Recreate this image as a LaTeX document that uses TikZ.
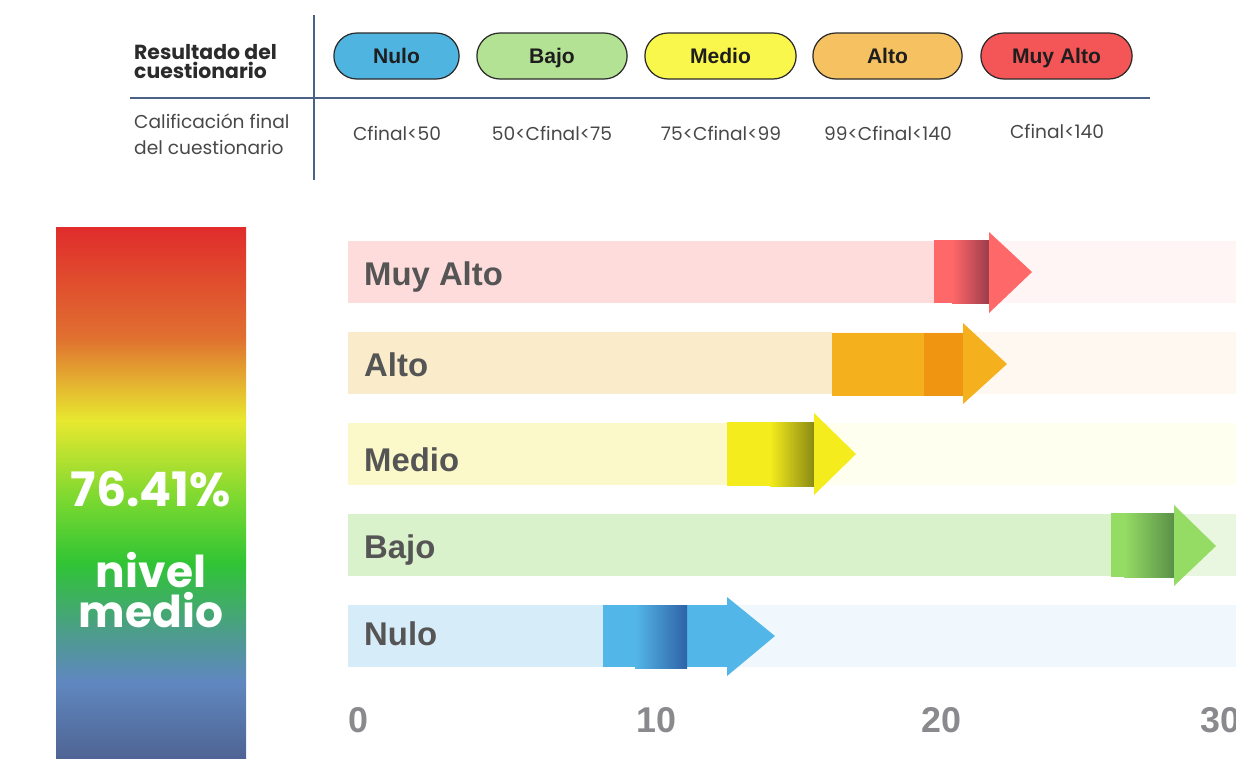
\documentclass[tikz,border=0pt]{standalone}
\usepackage{fontspec}
\setmainfont{Poppins}
\newfontfamily\arialfont{Liberation Sans}
\usetikzlibrary{shapes.misc}

% table colours
\definecolor{tableline}{HTML}{4A6286}
\definecolor{pillline}{HTML}{2A2A2A}
\definecolor{pilltext}{HTML}{1E1E1E}
\definecolor{hdrtext}{HTML}{2B2B2B}
\definecolor{rangetext}{HTML}{484848}
\definecolor{pnulo}{HTML}{4FB5E0}
\definecolor{pbajo}{HTML}{B3E294}
\definecolor{pmedio}{HTML}{F9F74C}
\definecolor{palto}{HTML}{F6C161}
\definecolor{pmuyalto}{HTML}{F45556}
% bar colours
\definecolor{labelgray}{HTML}{555555}
\definecolor{tickgray}{HTML}{8A8A8E}
\definecolor{mabg}{HTML}{FEDCDC}\definecolor{marest}{HTML}{FFF5F5}
\definecolor{mabody}{HTML}{FF6868}\definecolor{madark}{HTML}{9C3C4C}
\definecolor{albg}{HTML}{FAECCA}\definecolor{alrest}{HTML}{FFF8F0}
\definecolor{albody}{HTML}{F5B01E}\definecolor{aldark}{HTML}{EF9512}
\definecolor{mebg}{HTML}{FBF9C9}\definecolor{merest}{HTML}{FFFFF0}
\definecolor{mebody}{HTML}{F4EC1C}\definecolor{medark}{HTML}{8A8A14}
\definecolor{babg}{HTML}{DAF2CB}\definecolor{barest}{HTML}{E9F7E1}
\definecolor{babody}{HTML}{95DC64}\definecolor{badark}{HTML}{5A9048}
\definecolor{nubg}{HTML}{D6EDF9}\definecolor{nurest}{HTML}{F1F8FD}
\definecolor{nubody}{HTML}{53B6E8}\definecolor{nudark}{HTML}{2E62A6}
% level bar colours
\definecolor{lvbottom}{HTML}{4F6494}
\definecolor{lvblue}{HTML}{6088C0}
\definecolor{lvteal}{HTML}{4E9A90}
\definecolor{lvgreen}{HTML}{30C435}
\definecolor{lvlime}{HTML}{7AD830}
\definecolor{lvyellow}{HTML}{E8E830}
\definecolor{lvorange}{HTML}{E07030}
\definecolor{lvtop}{HTML}{E02C2C}

\pgfdeclareverticalshading{levelbar}{100bp}{color(0bp)=(lvbottom); color(25bp)=(lvbottom);
  color(32.3bp)=(lvblue); color(36.4bp)=(lvteal); color(43.3bp)=(lvgreen);
  color(49.3bp)=(lvlime); color(56.8bp)=(lvyellow); color(64.6bp)=(lvorange);
  color(75bp)=(lvtop); color(100bp)=(lvtop)}

\begin{document}
\begin{tikzpicture}[
    x=0.02cm, y=-0.02cm,
    pill/.style={
        rounded rectangle,
        draw=pillline,
        line width=0.7pt,
        minimum height=0.92cm,
        text height=1.7ex,
        text depth=0.2ex,
        text=pilltext,
        font=\arialfont\bfseries\fontsize{12}{14}\selectfont
    },
    rangetxt/.style={
        text=rangetext,
        font=\fontsize{10.6}{14.7}\selectfont
    },
    barlabel/.style={
        anchor=west,
        text height=1.6ex,
        text depth=0.4ex,
        text=labelgray,
        font=\arialfont\bfseries\fontsize{18.7}{22}\selectfont
    },
    ticklabel/.style={
        text=tickgray,
        font=\arialfont\bfseries\fontsize{20.4}{24}\selectfont
    }
]
\useasboundingbox (0,0) rectangle (1236,758);

% Table
\draw[tableline, line width=1.7pt] (314,15) -- (314,180);
\draw[tableline, line width=1.7pt] (130,98) -- (1150,98);
\node[anchor=west, align=left, text=hdrtext, font=\bfseries\fontsize{11.6}{10.8}\selectfont] (result) at (128,62) {Resultado del\\cuestionario};
\node[anchor=west, align=left, rangetxt] (calif) at (128,134) {Calificación final\\del cuestionario};

% First row
\node[pill, fill=pnulo, minimum width=2.74cm] (pnulo) at (396.5,56) {Nulo};
\node[pill, fill=pbajo, minimum width=3.24cm] (pbajo) at (552,56) {Bajo};
\node[pill, fill=pmedio, minimum width=3.26cm] (pmedio) at (720.5,56) {Medio};
\node[pill, fill=palto, minimum width=3.22cm] (palto) at (887.5,56) {Alto};
\node[pill, fill=pmuyalto, minimum width=3.26cm] (pmuyalto) at (1056.5,56) {Muy Alto};

% Second row
\node[rangetxt] (rnulo) at (397,133) {Cfinal<50};
\node[rangetxt] (rbajo) at (552,133) {50<Cfinal<75};
\node[rangetxt] (rmedio) at (721,133) {75<Cfinal<99};
\node[rangetxt] (ralto) at (888,133) {99<Cfinal<140};
\node[rangetxt] (rmuyalto) at (1057,131) {Cfinal<140};

% Level bar
\shade[shading=levelbar] (56,227) rectangle (246,758);
\node[text=white, font=\bfseries\fontsize{27}{30}\selectfont] (pct) at (151,489) {76.41\%};
\node[text=white, align=center, font=\bfseries\fontsize{25}{23}\selectfont] (nivel) at (151,590) {nivel\\medio};

% Muy Alto
\fill[mabg] (348,241) rectangle (934,303);
\fill[marest] (934,241) rectangle (1236,303);
\fill[mabody] (934,240) rectangle (989,303);
\shade[left color=mabody, right color=madark] (952,240) rectangle (989,303);
\fill[mabody] (989,232) -- (1032,272) -- (989,313) -- cycle;
\node[barlabel] (lmuyalto) at (358,280) {Muy Alto};

% Alto
\fill[albg] (348,332) rectangle (832,394);
\fill[alrest] (832,332) rectangle (1236,394);
\fill[albody] (832,333) rectangle (924,396);
\fill[aldark] (924,333) rectangle (963,396);
\fill[albody] (963,323) -- (1007,364) -- (963,404) -- cycle;
\node[barlabel] (lalto) at (358,371) {Alto};

% Medio
\fill[mebg] (348,423) rectangle (727,485);
\fill[merest] (727,423) rectangle (1236,485);
\fill[mebody] (727,422) rectangle (814,486);
\shade[left color=mebody, right color=medark] (770,422) rectangle (814,486);
\fill[mebody] (814,413) -- (856,454) -- (814,495) -- cycle;
\node[barlabel] (lmedio) at (358,466) {Medio};

% Bajo
\fill[babg] (348,514) rectangle (1111,576);
\fill[barest] (1111,514) rectangle (1236,576);
\fill[babody] (1111,513) rectangle (1174,577);
\shade[left color=babody, right color=badark] (1124,513) rectangle (1174,577);
\fill[babody] (1174,505) -- (1216,546) -- (1174,586) -- cycle;
\node[barlabel] (lbajo) at (358,553) {Bajo};

% Nulo
\fill[nubg] (348,605) rectangle (603,667);
\fill[nurest] (603,605) rectangle (1236,667);
\fill[nubody] (603,605) rectangle (727,667);
\shade[left color=nubody, right color=nudark] (635,605) rectangle (687,668);
\fill[nubody] (727,597) -- (775,636) -- (727,676) -- cycle;
\node[barlabel] (lnulo) at (358,640) {Nulo};

% Axis
\node[ticklabel] (t0) at (358,720) {0};
\node[ticklabel] (t10) at (656,720) {10};
\node[ticklabel] (t20) at (941,720) {20};
\node[ticklabel, anchor=west] (t30) at (1194,720) {30};

\end{tikzpicture}
\end{document}
